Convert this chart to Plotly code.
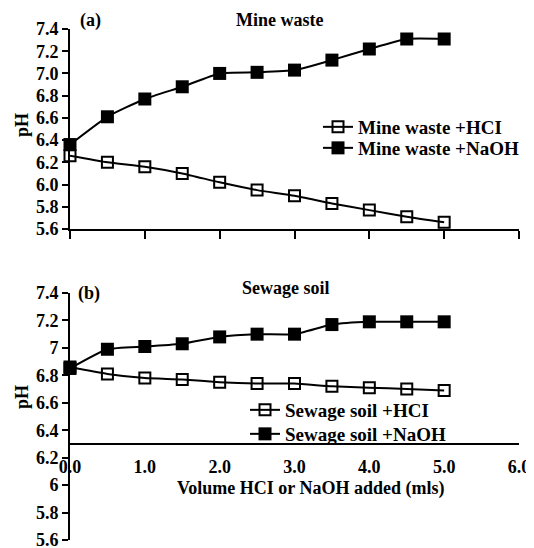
import plotly.graph_objects as go

# ---- data ----
volume = [0.0, 0.5, 1.0, 1.5, 2.0, 2.5, 3.0, 3.5, 4.0, 4.5, 5.0]
mine_hcl = [6.26, 6.20, 6.16, 6.10, 6.02, 5.95, 5.90, 5.83, 5.77, 5.71, 5.66]
mine_naoh = [6.36, 6.61, 6.77, 6.88, 7.00, 7.01, 7.03, 7.12, 7.22, 7.31, 7.31]
sew_hcl = [6.86, 6.81, 6.78, 6.77, 6.75, 6.74, 6.74, 6.72, 6.71, 6.70, 6.69]
sew_naoh = [6.85, 6.99, 7.01, 7.03, 7.08, 7.10, 7.10, 7.17, 7.19, 7.19, 7.19]
x_ticks = [0, 1, 2, 3, 4, 5, 6]
y_ticks = [5.6, 5.8, 6.0, 6.2, 6.4, 6.6, 6.8, 7.0, 7.2, 7.4]

# the page body has an 8px margin, so the figure starts at (8, 8) of the window
OFF = 8
W, H = 534 - OFF, 548 - OFF
L, R = 70, 519          # window pixels of plot area left/right


def px(x):
    return (x - L) / (R - L)


def py(y):
    return (H - (y - OFF)) / H


FAM = "Times New Roman, Liberation Serif, serif"
FONT = dict(family=FAM, size=18, color="black", weight="bold")
LFONT = dict(family=FAM, size=19, color="black", weight="bold")

fig = go.Figure()

line = dict(color="black", width=2, shape="spline", smoothing=0.5)

fig.add_trace(go.Scatter(x=volume, y=mine_hcl, name="Mine waste +HCI", mode="lines+markers",
                         line=line, cliponaxis=False,
                         marker=dict(symbol="square-open", size=11, color="black", line=dict(width=2)),
                         xaxis="x", yaxis="y", legend="legend"))
fig.add_trace(go.Scatter(x=volume, y=mine_naoh, name="Mine waste +NaOH", mode="lines+markers",
                         line=line, cliponaxis=False,
                         marker=dict(symbol="square", size=13, color="black"),
                         xaxis="x", yaxis="y", legend="legend2"))
fig.add_trace(go.Scatter(x=volume, y=sew_hcl, name="Sewage soil +HCI", mode="lines+markers",
                         line=line, cliponaxis=False,
                         marker=dict(symbol="square-open", size=11, color="black", line=dict(width=2)),
                         xaxis="x2", yaxis="y2", legend="legend3"))
fig.add_trace(go.Scatter(x=volume, y=sew_naoh, name="Sewage soil +NaOH", mode="lines+markers",
                         line=line, cliponaxis=False,
                         marker=dict(symbol="square", size=13, color="black"),
                         xaxis="x2", yaxis="y2", legend="legend4"))

axis_common = dict(showline=True, linecolor="black", linewidth=2, showgrid=False, zeroline=False,
                   tickfont=FONT, tickcolor="black", tickwidth=2, ticklabeloverflow="allow")


def leg(x, y):
    return dict(x=px(x), y=py(y), xanchor="left", yanchor="middle", font=LFONT,
                bgcolor="rgba(0,0,0,0)", itemwidth=30)


fig.update_layout(
    width=W, height=H,
    margin=dict(l=L - OFF, r=W - (R - OFF), t=0, b=0, autoexpand=False),
    paper_bgcolor="white", plot_bgcolor="rgba(0,0,0,0)",
    font=FONT,
    xaxis=dict(axis_common, domain=[0, 1], range=[0, 6], tickvals=x_ticks, ticks="outside",
               ticklen=8, showticklabels=False, anchor="y"),
    yaxis=dict(axis_common, domain=[py(229), py(29)], range=[5.6, 7.4], tickvals=y_ticks,
               tickformat=".1f", ticks="outside", ticklen=6, anchor="x"),
    xaxis2=dict(axis_common, domain=[0, 1], range=[0, 6], tickvals=x_ticks, tickformat=".1f",
                ticks="", anchor="free", position=py(444), ticklabelstandoff=6),
    yaxis2=dict(axis_common, domain=[py(540), py(293)], range=[5.6, 7.4], tickvals=y_ticks,
                ticks="outside", ticklen=6, anchor="x2"),
    legend=leg(318, 127),
    legend2=leg(318, 148),
    legend3=leg(245, 410),
    legend4=leg(245, 434),
    showlegend=True,
)

annots = [
    ("(a)", 78, 21, "left"),
    ("Mine waste", 279, 20, "center"),
    ("(b)", 76, 293, "left"),
    ("Sewage soil", 286, 288, "center"),
    ("Volume HCI or NaOH added (mls)", 311, 488, "center"),
]
for text, x, y, anc in annots:
    fig.add_annotation(text=text, x=px(x), y=py(y), xref="paper", yref="paper",
                       xanchor=anc, yanchor="middle", showarrow=False, font=FONT)

for y in (125, 397):
    fig.add_annotation(text="pH", x=px(22), y=py(y), xref="paper", yref="paper",
                       xanchor="center", yanchor="middle", textangle=-90, showarrow=False, font=FONT)

fig.write_html("out.html")
